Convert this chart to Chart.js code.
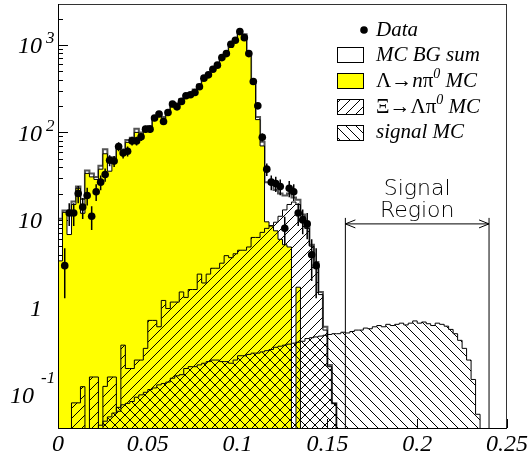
<!DOCTYPE html>
<html>
<head>
<meta charset="utf-8">
<script src="https://cdn.jsdelivr.net/npm/chart.js@4.4.1/dist/chart.umd.min.js"></script>
<style>
html,body{margin:0;padding:0;background:#fff;}
#wrap{width:530px;height:458px;position:relative;}
</style>
</head>
<body>
<div id="wrap"><canvas id="c" width="530" height="458"></canvas></div>
<script>
// histogram binning (x = missing mass variable, 0..0.25)
const binWidth=0.0025;
const nBins=100;

// data counts per bin (bins past the end are empty)
const dataCounts=[null,3,12,12,20,14,19,11,21,27,
  33,48,47,69,58,61,80,80,89,109,
  109,146,162,133,169,211,196,226,262,269,
  286,332,417,455,528,587,716,796,1019,1132,
  1419,1211,796,382,201,88,38,27,26,24,
  8,23,21,12,10,9,4,3];

// MC background sum
const bgSum=[10.3,12.8,12.8,16.2,24,17.3,36.6,34,31,41.6,
  64,52,52,68,62,82,87,110,100,112,
  118,150,165,150,175,205,215,240,262,280,
  310,350,410,450,520,600,700,820,960,1150,
  1380,1320,817,389,150,78,27,26,22,20,
  19,20,18,17,11.5,8.2,5.2,3.3,1.5,0.6,
  0.22,0.08];

// Lambda -> n pi0 MC
const lambdaMC=[3.4,12.2,6.8,15,23,11.9,34,31,29,38,
  57,36,45,64,58,77,80,100,95,106,
  112,142,158,143,168,196,205,230,250,270,
  298,336,395,435,505,580,680,795,935,1120,
  1340,1280,790,370,140,70,9.5,8.5,7.5,6,
  5.2,4.9,0,1.7];

// Xi -> Lambda pi0 MC
const xiMC=[0,0,0,0.081,0.081,0.124,0,0.16,0.16,0,
  0.125,0.16,0.16,0.065,0.37,0.2,0.2,0.25,0.25,0.34,
  0.71,0.71,0.6,1.2,0.97,1.15,1.15,1.5,1.3,1.6,
  1.6,2.4,1.9,2.4,2.8,2.8,3.2,3.9,3.7,4.1,
  4.5,4.5,4.9,6.3,6.3,7.2,8,8.6,9.4,11,
  13,15,16,15,11,8,5,3.2,1.4,0.55,
  0.21,0.08];

// signal MC
const signalMC=[0,0,0,0,0,0,0,0,0,0.045,
  0.05,0.056,0.062,0.072,0.077,0.08,0.084,0.094,0.1,0.107,
  0.115,0.12,0.13,0.135,0.14,0.155,0.165,0.17,0.2,0.21,
  0.21,0.22,0.23,0.24,0.25,0.25,0.24,0.24,0.23,0.25,
  0.28,0.28,0.29,0.3,0.3,0.31,0.32,0.33,0.35,0.36,
  0.37,0.38,0.39,0.40,0.41,0.44,0.45,0.46,0.47,0.48,
  0.49,0.50,0.50,0.52,0.51,0.53,0.55,0.55,0.58,0.57,
  0.60,0.62,0.60,0.64,0.62,0.64,0.66,0.63,0.66,0.70,
  0.66,0.68,0.65,0.62,0.66,0.64,0.61,0.56,0.5,0.42,
  0.34,0.25,0.15,0.06];

const xTicks=[0,0.05,0.1,0.15,0.2,0.25];
const xTickLabels=['0','0.05','0.1','0.15','0.2','0.25'];
const yTicks=[0.1,1,10,100,1000];
const yTickBase=['10','1','10','10','10'];
const yTickExp=['-1','','','2','3'];
const signalRegion=[0.16,0.24];
const signalRegionText=['Signal','Region'];

const FLOOR=1e-4;
function histPoints(arr){
  const pts=[];
  for(let i=0;i<nBins;i++){
    const v=arr[i];
    pts.push({x:i*binWidth,y:(v==null||v<=0)?FLOOR:v});
  }
  pts.push({x:nBins*binWidth,y:FLOOR});
  return pts;
}
const dataPoints=[];
dataCounts.forEach((n,i)=>{if(n!=null&&n>0)dataPoints.push({x:(i+0.5)*binWidth,y:n});});

function hatch(dir){
  const s=10;
  const c=document.createElement('canvas');
  c.width=s;c.height=s;
  const g=c.getContext('2d');
  g.strokeStyle='#000';g.lineWidth=1;
  g.beginPath();
  if(dir>0){
    g.moveTo(0,s);g.lineTo(s,0);
    g.moveTo(-2,2);g.lineTo(2,-2);
    g.moveTo(s-2,s+2);g.lineTo(s+2,s-2);
  }else{
    g.moveTo(0,0);g.lineTo(s,s);
    g.moveTo(s-2,-2);g.lineTo(s+2,2);
    g.moveTo(-2,s-2);g.lineTo(2,s+2);
  }
  g.stroke();
  return g.createPattern(c,'repeat');
}
const ctx0=document.getElementById('c').getContext('2d');
const hatchUp=hatch(1),hatchDown=hatch(-1);

const serif='"Liberation Serif","Times New Roman",serif';
function drawRich(ctx,x,y,parts){
  parts.forEach(p=>{
    ctx.font=p.f;
    ctx.fillText(p.t,x,y+(p.dy||0));
    x+=ctx.measureText(p.t).width;
  });
}

const decor={
  id:'decor',
  beforeDatasetsDraw(chart){
    const {ctx,chartArea:a,scales:{x,y}}=chart;
    ctx.save();
    ctx.strokeStyle='#000';ctx.lineWidth=1;
    ctx.beginPath();
    for(let d=-2;d<=3;d++){
      for(let m=1;m<10;m++){
        const v=m*Math.pow(10,d);
        if(v<y.min||v>y.max)continue;
        const py=Math.round(y.getPixelForValue(v))+0.5;
        ctx.moveTo(a.left,py);ctx.lineTo(a.left+(m===1?10:5),py);
      }
    }
    xTicks.forEach(v=>{
      const px=Math.round(x.getPixelForValue(v))+0.5;
      ctx.moveTo(px,a.bottom);ctx.lineTo(px,a.bottom-9);
    });
    ctx.stroke();
    ctx.restore();
  },
  beforeDatasetDraw(chart,args){
    if(chart.data.datasets[args.index].label!=='Data')return;
    const {ctx,chartArea:a,scales:{x,y}}=chart;
    ctx.save();
    ctx.beginPath();ctx.rect(a.left,a.top,a.right-a.left,a.bottom-a.top);ctx.clip();
    ctx.strokeStyle='#000';ctx.lineWidth=1.5;
    ctx.beginPath();
    dataPoints.forEach(p=>{
      const e=Math.sqrt(p.y);
      const px=x.getPixelForValue(p.x);
      const lo=p.y-e>0?y.getPixelForValue(p.y-e):a.bottom;
      ctx.moveTo(px,y.getPixelForValue(p.y+e));ctx.lineTo(px,lo);
    });
    ctx.stroke();
    ctx.restore();
  },
  afterDatasetsDraw(chart){
    const {ctx,chartArea:a,scales:{x,y}}=chart;
    ctx.save();
    // frame
    ctx.strokeStyle='#333';ctx.lineWidth=1;
    ctx.strokeRect(a.left+0.5,a.top+0.5,a.right-a.left-1,a.bottom-a.top);
    ctx.strokeStyle='#000';
    ctx.beginPath();ctx.moveTo(a.left+0.5,a.top);ctx.lineTo(a.left+0.5,a.bottom+0.5);ctx.lineTo(a.right,a.bottom+0.5);ctx.stroke();

    // signal region
    const xl=x.getPixelForValue(signalRegion[0]),xr=x.getPixelForValue(signalRegion[1]);
    const ya=y.getPixelForValue(9);
    ctx.beginPath();
    ctx.moveTo(xl,ya-6);ctx.lineTo(xl,a.bottom);
    ctx.moveTo(xr,ya-6);ctx.lineTo(xr,a.bottom);
    ctx.moveTo(xl,ya);ctx.lineTo(xr,ya);
    ctx.moveTo(xl+10,ya-4);ctx.lineTo(xl,ya);ctx.lineTo(xl+10,ya+4);
    ctx.moveTo(xr-10,ya-4);ctx.lineTo(xr,ya);ctx.lineTo(xr-10,ya+4);
    ctx.stroke();
    ctx.fillStyle='#000';
    ctx.font='200 22px "DejaVu Sans"';
    ctx.textAlign='center';ctx.textBaseline='alphabetic';
    ctx.fillText(signalRegionText[0],(xl+xr)/2,ya-29);
    ctx.fillText(signalRegionText[1],(xl+xr)/2,ya-7);

    // x labels
    ctx.font='italic 24px '+serif;
    xTicks.forEach((v,i)=>ctx.fillText(xTickLabels[i],x.getPixelForValue(v),451));

    // y labels
    ctx.textAlign='left';
    yTicks.forEach((v,i)=>{
      const py=y.getPixelForValue(v);
      ctx.font='italic 24px '+serif;
      const base=yTickBase[i],exp=yTickExp[i];
      const right=exp==='-1'?34:42;
      const w=ctx.measureText(base).width;
      ctx.fillText(base,right-w,py+8.5);
      if(exp){
        ctx.font='italic 17px '+serif;
        ctx.fillText(exp,exp==='-1'?41:46,exp==='-1'?py-12:py-1.5);
      }
    });

    // legend
    const lx=337,tx=376;
    ctx.beginPath();ctx.arc(364,30,3.8,0,Math.PI*2);ctx.fill();
    const it='italic 21px '+serif,up='21px '+serif,sup='italic 14px '+serif;
    drawRich(ctx,tx,36,[{t:'Data',f:it}]);
    ctx.lineWidth=1;ctx.strokeStyle='#000';
    ctx.fillStyle='#fff';ctx.fillRect(lx,47,26,15);ctx.strokeRect(lx+0.5,47.5,26,15);
    ctx.fillStyle='#ffff00';ctx.fillRect(lx,73,26,15);ctx.strokeRect(lx+0.5,73.5,26,15);
    ctx.fillStyle=hatchUp;ctx.fillRect(lx,99,26,15);ctx.strokeRect(lx+0.5,99.5,26,15);
    ctx.fillStyle=hatchDown;ctx.fillRect(lx,125,26,15);ctx.strokeRect(lx+0.5,125.5,26,15);
    ctx.fillStyle='#000';
    drawRich(ctx,tx,61,[{t:'MC BG sum',f:it}]);
    drawRich(ctx,tx,87,[{t:'Λ→',f:up},{t:'n',f:it},{t:'π',f:up},{t:'0',f:sup,dy:-9},{t:' MC',f:it}]);
    drawRich(ctx,tx,113,[{t:'Ξ→Λπ',f:up},{t:'0',f:sup,dy:-9},{t:' MC',f:it}]);
    drawRich(ctx,tx,138,[{t:'signal MC',f:it}]);
    ctx.restore();
  }
};

const histBase={showLine:true,stepped:true,pointRadius:0,tension:0,fill:'start'};
new Chart(document.getElementById('c'),{
  type:'scatter',
  data:{datasets:[
    {label:'Data',data:dataPoints,pointRadius:3.8,pointBackgroundColor:'#000',pointBorderWidth:0,showLine:false,order:0},
    Object.assign({label:'signal MC',data:histPoints(signalMC),borderColor:'#000',borderWidth:1,backgroundColor:hatchDown,order:1},histBase),
    Object.assign({label:'Xi MC',data:histPoints(xiMC),borderColor:'#000',borderWidth:1,backgroundColor:hatchUp,order:2},histBase),
    Object.assign({label:'Lambda MC',data:histPoints(lambdaMC),borderColor:'#000',borderWidth:1,backgroundColor:'#ffff00',order:3},histBase),
    Object.assign({label:'MC BG sum',data:histPoints(bgSum),borderColor:'#555',borderWidth:2,backgroundColor:'rgba(0,0,0,0)',order:4},histBase,{fill:false})
  ]},
  options:{
    responsive:false,animation:false,devicePixelRatio:1,
    layout:{padding:{left:58,right:23,top:3,bottom:30}},
    plugins:{legend:{display:false},tooltip:{enabled:false}},
    scales:{
      x:{type:'linear',min:0,max:0.25,display:false},
      y:{type:'logarithmic',min:0.04181,max:2935,display:false}
    }
  },
  plugins:[decor]
});
</script>
</body>
</html>
